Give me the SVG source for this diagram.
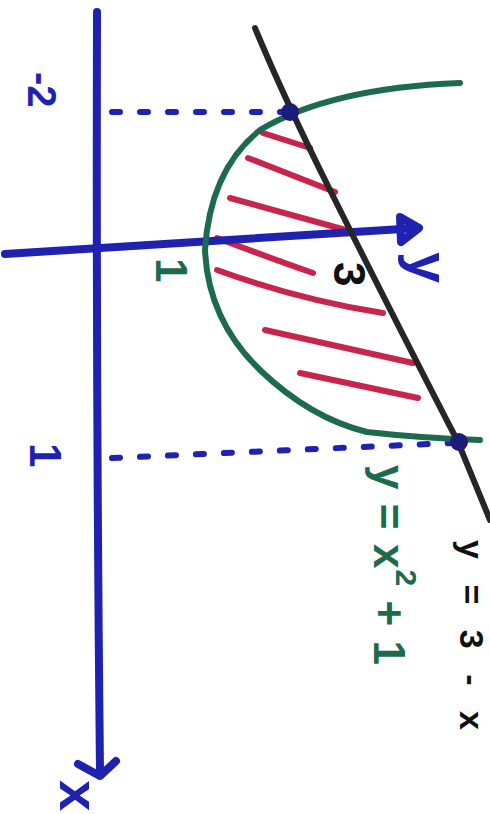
<svg xmlns="http://www.w3.org/2000/svg" width="490" height="814" viewBox="0 0 490 814">
<style>
.ax{fill:none;stroke:#1f22b0;stroke-width:8;stroke-linecap:round;stroke-linejoin:round}
.dot{fill:none;stroke:#1f22b0;stroke-width:6;stroke-linecap:round;stroke-dasharray:8 20}
.blk{fill:none;stroke:#262626;stroke-width:6;stroke-linecap:round}
.grn{fill:none;stroke:#1d6b4c;stroke-width:6;stroke-linecap:round}
.red{fill:none;stroke:#c8254d;stroke-width:6;stroke-linecap:round}
.pt{fill:#1c1c78}
.t{font-family:"Liberation Sans","DejaVu Sans",sans-serif;font-weight:bold}
.tb{fill:#1f22b0}.tg{fill:#1d6b4c}.tk{fill:#111}
</style>
<rect width="490" height="814" fill="#fff"/>
<g id="hatch">
<path class="red" d="M263,133 L310,148"/>
<path class="red" d="M248,158 L335,192"/>
<path class="red" d="M230,198 L353,232"/>
<path class="red" d="M217,238 Q270,258 313,273"/>
<path class="red" d="M217,270 Q300,300 383,313"/>
<path class="red" d="M265,330 L413,363"/>
<path class="red" d="M300,373 L418,398"/>
</g>
<g id="x-axis">
<path class="ax" d="M97,12 Q96,400 100,772"/>
<path class="ax" d="M78,764 L100,776 L116,761"/>
</g>
<g id="y-axis">
<path class="ax" d="M5,254 L418,228"/>
<path class="ax" d="M400,217 L419,228 L401,242 Z" fill="#1f22b0"/>
</g>
<g id="connectors">
<path class="dot" d="M112,112 L282,112"/>
<path class="dot" d="M112,458 L452,443"/>
</g>
<g id="line">
<path class="blk" d="M255,28 Q285,100 330,190 Q400,330 458,442 L490,520"/>
</g>
<g id="parabola">
<path class="grn" d="M460,83 Q330,88 260,130 Q210,170 205,250 Q208,320 260,370 Q310,418 367,432 Q420,438 480,440"/>
</g>
<g id="points">
<circle class="pt" cx="290" cy="112" r="9"/>
<circle class="pt" cx="459" cy="442" r="9"/>
</g>
<g id="labels">
<text class="t tb" font-size="40" transform="translate(28,72) rotate(90)">-2</text>
<text class="t tb" font-size="44" transform="translate(30,443) rotate(90)">1</text>
<text class="t tg" font-size="44" transform="translate(156,258) rotate(90)">1</text>
<text class="t tk" font-size="44" transform="translate(334,262) rotate(90)">3</text>
<text class="t tb" font-size="56" transform="translate(410,252) rotate(90)">y</text>
<text class="t tb" font-size="56" transform="translate(60,780) rotate(90)">x</text>
<text class="t tg" font-size="44" transform="translate(374,465) rotate(90)" textLength="200" lengthAdjust="spacing">y = x<tspan font-size="30" dy="-22">2</tspan><tspan dy="22"> + 1</tspan></text>
<text class="t tk" font-size="34" transform="translate(460,540) rotate(90)" textLength="190" lengthAdjust="spacing">y = 3 - x</text>
</g>
</svg>
